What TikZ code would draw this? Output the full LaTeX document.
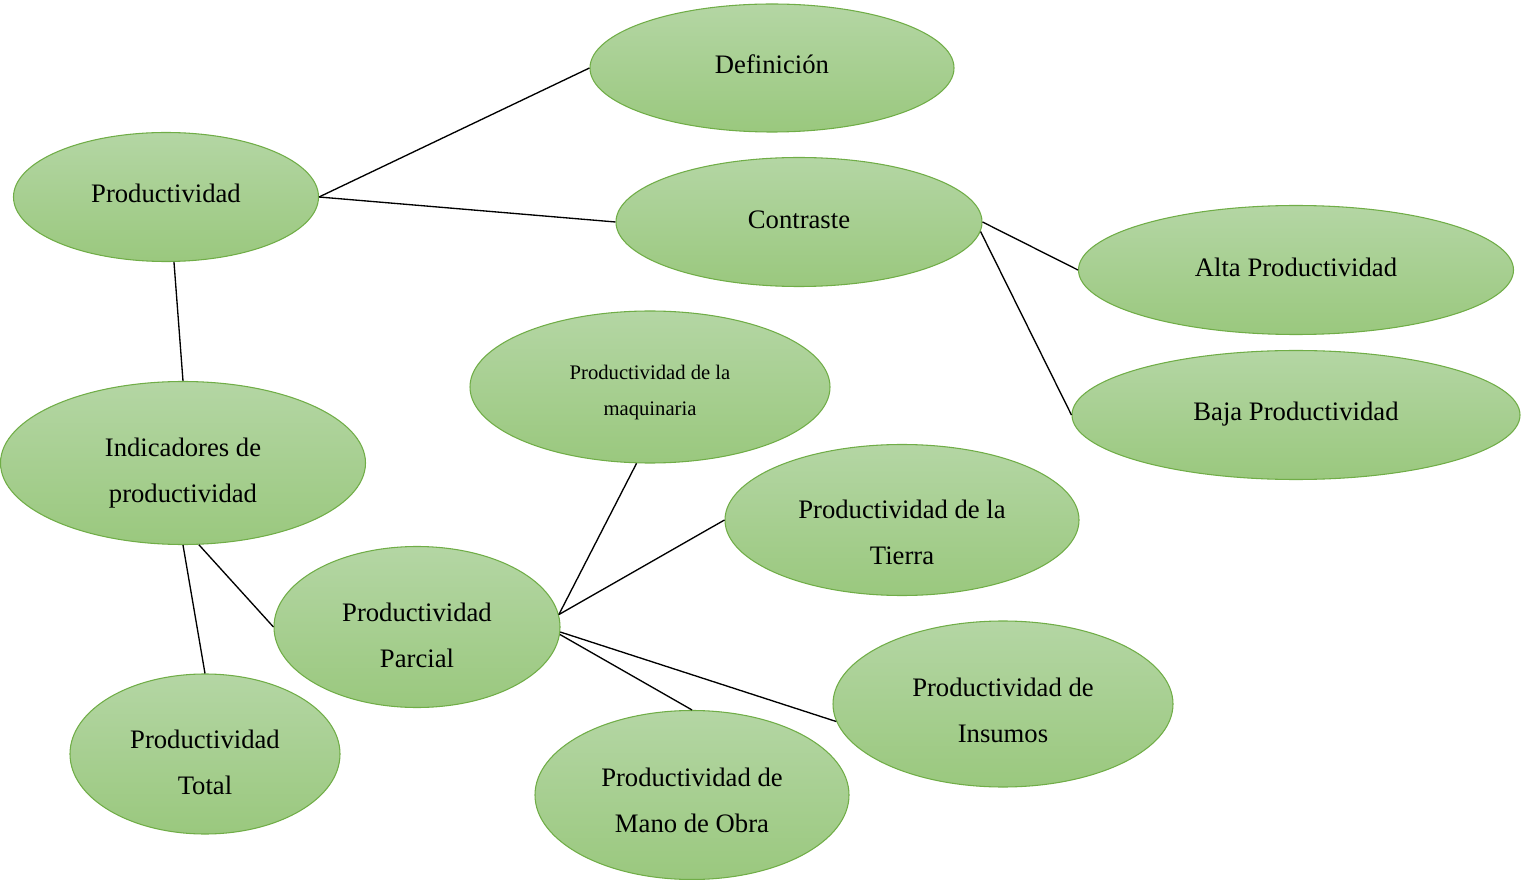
\documentclass[tikz,border=0pt]{standalone}
\usepackage{fontspec}
\setmainfont{Liberation Serif}
\usetikzlibrary{shapes.geometric}
\definecolor{topgreen}{HTML}{B4D6A4}
\definecolor{botgreen}{HTML}{9AC87E}
\definecolor{rimgreen}{HTML}{70AD47}
\newcommand{\pushdn}[1]{\rule{0pt}{#1pt}}

\begin{document}
\begin{tikzpicture}[x=0.75pt,y=-0.75pt]
%   Productividad --- Definicion
%        |       \--- Contraste --- Alta / Baja
%   Indicadores --- Parcial --- maquinaria, Tierra, Insumos, Mano de Obra
%        \--- Total
    \tikzstyle{every node}=[ellipse, draw=rimgreen, line width=0.8pt, inner sep=0pt,
        top color=topgreen, bottom color=botgreen, align=center,
        font=\fontsize{20}{34.5}\selectfont]
    \tikzset{sz/.style n args={2}{minimum width=#1*0.75pt, minimum height=#2*0.75pt}}
    \useasboundingbox (0,0) rectangle (1521,880);

    \node[sz={364}{128}, text depth=6pt] (def) at (772,68) {Definición};
    \node[sz={305}{129}, text depth=5.8pt] (prod) at (166,197) {Productividad};
    \node[sz={366}{129}, text depth=3pt] (contr) at (799,222) {Contraste};
    \node[sz={435}{129}, text depth=4.5pt] (alta) at (1296,270) {Alta Productividad};
    \node[sz={448}{129}, text depth=5.8pt] (baja) at (1296,415) {Baja Productividad};
    % small text
    \node[sz={360}{152}, font=\fontsize{15.5}{27}\selectfont] (maq) at (650,387) {\pushdn{19.6}Productividad de la\\maquinaria};
    \node[sz={365}{163}] (ind) at (183,463) {\pushdn{28.7}Indicadores de\\productividad};
    \node[sz={354}{151}] (tierra) at (902,520) {\pushdn{31.7}Productividad de la\\Tierra};
    \node[sz={286}{161}] (parc) at (417,627) {\pushdn{25.7}Productividad\\Parcial};
    \node[sz={340}{166}] (insu) at (1003,704) {\pushdn{22.7}Productividad de\\Insumos};
    \node[sz={270}{160}] (total) at (205,754) {\pushdn{25.7}Productividad\\Total};
    \node[sz={314}{169}] (mano) at (692,795) {\pushdn{21.2}Productividad de\\Mano de Obra};

    \path[line width=1pt] (prod.east) edge (def.west)
              (prod.east) edge (contr.west)
              (prod.-83) edge (ind.north)
              (contr.east) edge (alta.west)
              (contr.-3) edge (baja.west);

    \path[line width=1pt] (ind.-79) edge (parc.west)
              (ind.south) edge (total.north);

    \path[line width=1pt] (parc.5) edge (maq.-100)
              (parc.5) edge (tierra.west)
              (parc.-2) edge (insu.186)
              (parc.-3) edge (mano.north);
\end{tikzpicture}
\end{document}
